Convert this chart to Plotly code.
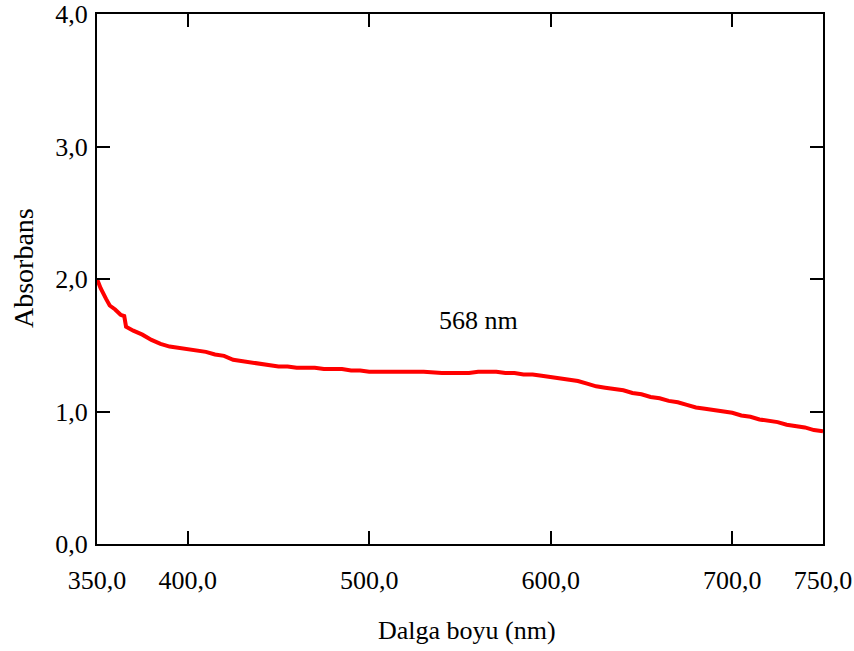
import plotly.graph_objects as go

wavelength = [350, 352, 355, 357, 360, 363, 365, 366, 370, 375, 380, 385, 390, 395, 400, 405, 410, 415, 420,
              425, 430, 435, 440, 445, 450, 455, 460, 465, 470, 475, 480, 485, 490, 495, 500, 510, 520, 530,
              540, 550, 555, 560, 565, 570, 575, 580, 585, 590, 595, 600, 605, 610, 615, 620, 625, 630, 635,
              640, 645, 650, 655, 660, 665, 670, 675, 680, 685, 690, 695, 700, 705, 710, 715, 720, 725, 730,
              735, 740, 745, 750]
absorbance = [2.00, 1.93, 1.85, 1.80, 1.77, 1.73, 1.72, 1.64, 1.61, 1.58, 1.54, 1.51, 1.49, 1.48, 1.47, 1.46,
              1.45, 1.43, 1.42, 1.39, 1.38, 1.37, 1.36, 1.35, 1.34, 1.34, 1.33, 1.33, 1.33, 1.32, 1.32, 1.32,
              1.31, 1.31, 1.30, 1.30, 1.30, 1.30, 1.29, 1.29, 1.29, 1.30, 1.30, 1.30, 1.29, 1.29, 1.28, 1.28,
              1.27, 1.26, 1.25, 1.24, 1.23, 1.21, 1.19, 1.18, 1.17, 1.16, 1.14, 1.13, 1.11, 1.10, 1.08, 1.07,
              1.05, 1.03, 1.02, 1.01, 1.00, 0.99, 0.97, 0.96, 0.94, 0.93, 0.92, 0.90, 0.89, 0.88, 0.86, 0.85]

x_tickvals = [350, 400, 500, 600, 700, 750]
x_ticktext = ["350,0", "400,0", "500,0", "600,0", "700,0", "750,0"]
y_tickvals = [0, 1, 2, 3, 4]
y_ticktext = ["0,0", "1,0", "2,0", "3,0", "4,0"]

FONT = "Liberation Serif, Times New Roman, serif"

fig = go.Figure()
fig.add_trace(go.Scatter(x=wavelength, y=absorbance, mode="lines", line=dict(color="#ff0000", width=4, shape="linear"),
                         showlegend=False, hoverinfo="skip"))

axis_common = dict(showgrid=False, zeroline=False, showline=True, linecolor="black", linewidth=2,
                   mirror="ticks", ticks="inside", ticklen=13, tickwidth=2, tickcolor="black", automargin=False,
                   tickfont=dict(family=FONT, size=26, color="black"))

fig.update_xaxes(range=[350, 750], tickvals=x_tickvals, ticktext=x_ticktext, ticklabelstandoff=12, **axis_common)
fig.update_yaxes(range=[0, 4], tickvals=y_tickvals, ticktext=y_ticktext, ticklabelstandoff=2, **axis_common)

fig.add_annotation(x=560, y=1.69, xref="x", yref="y", text="568 nm", showarrow=False,
                   font=dict(family=FONT, size=26, color="black"), xanchor="center", yanchor="middle")
fig.add_annotation(x=(467 - 97) / 726, y=(544 - 630) / 530, xref="paper", yref="paper", text="Dalga boyu (nm)",
                   showarrow=False, font=dict(family=FONT, size=26, color="black"),
                   xanchor="center", yanchor="middle")
fig.add_annotation(x=(23 - 97) / 726, y=(544 - 268) / 530, xref="paper", yref="paper", text="Absorbans",
                   showarrow=False, textangle=-90, font=dict(family=FONT, size=28, color="black"),
                   xanchor="center", yanchor="middle")

fig.update_layout(width=854, height=651, margin=dict(l=97, r=31, t=14, b=107),
                  paper_bgcolor="white", plot_bgcolor="white")

fig.write_html("out.html")
